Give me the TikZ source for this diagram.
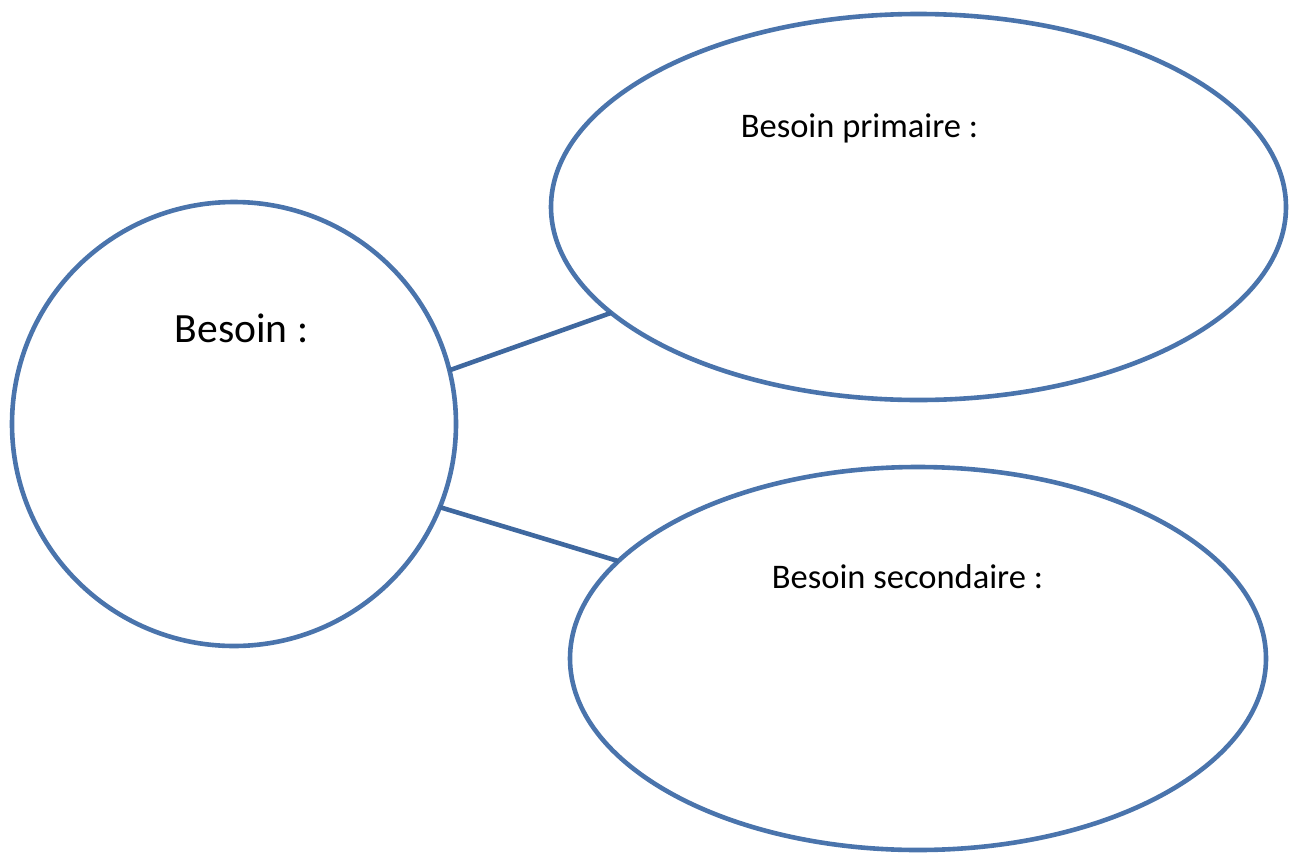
\documentclass[tikz,border=0pt]{standalone}
\usepackage{fontspec}
\setmainfont{Carlito}
\usetikzlibrary{shapes.geometric}
\definecolor{shapeblue}{HTML}{4A74AC}
\definecolor{lineblue}{HTML}{3F689F}
\tikzset{
  bubble/.style={draw=shapeblue, line width=4.6pt, inner sep=0pt, outer sep=0pt},
  link/.style={draw=lineblue, line width=4.6pt},
  lbl/.style={anchor=base, inner sep=0pt, text=black}
}
\begin{document}
\begin{tikzpicture}[x=1pt,y=-1pt]
\useasboundingbox (0,0) rectangle (1296,854);
\node[bubble, circle, minimum size=444pt] (c) at (234,424) {};
\node[bubble, ellipse, minimum width=735pt, minimum height=386pt] (e1) at (918.5,207) {};
\node[bubble, ellipse, minimum width=696pt, minimum height=383pt] (e2) at (918,658.5) {};
\draw[link] (c.14.2) -- (e1.199.2);
\draw[link] (c.-22.7) -- (e2.162.9);
\node[lbl, font=\fontsize{41.6}{50}\selectfont] (t0) at (241.5,342) {Besoin :};
\node[lbl, font=\fontsize{34.5}{41}\selectfont] (t1) at (859.5,137) {Besoin primaire :};
\node[lbl, font=\fontsize{34.5}{41}\selectfont] (t2) at (907.5,588) {Besoin secondaire :};
\end{tikzpicture}
\end{document}
